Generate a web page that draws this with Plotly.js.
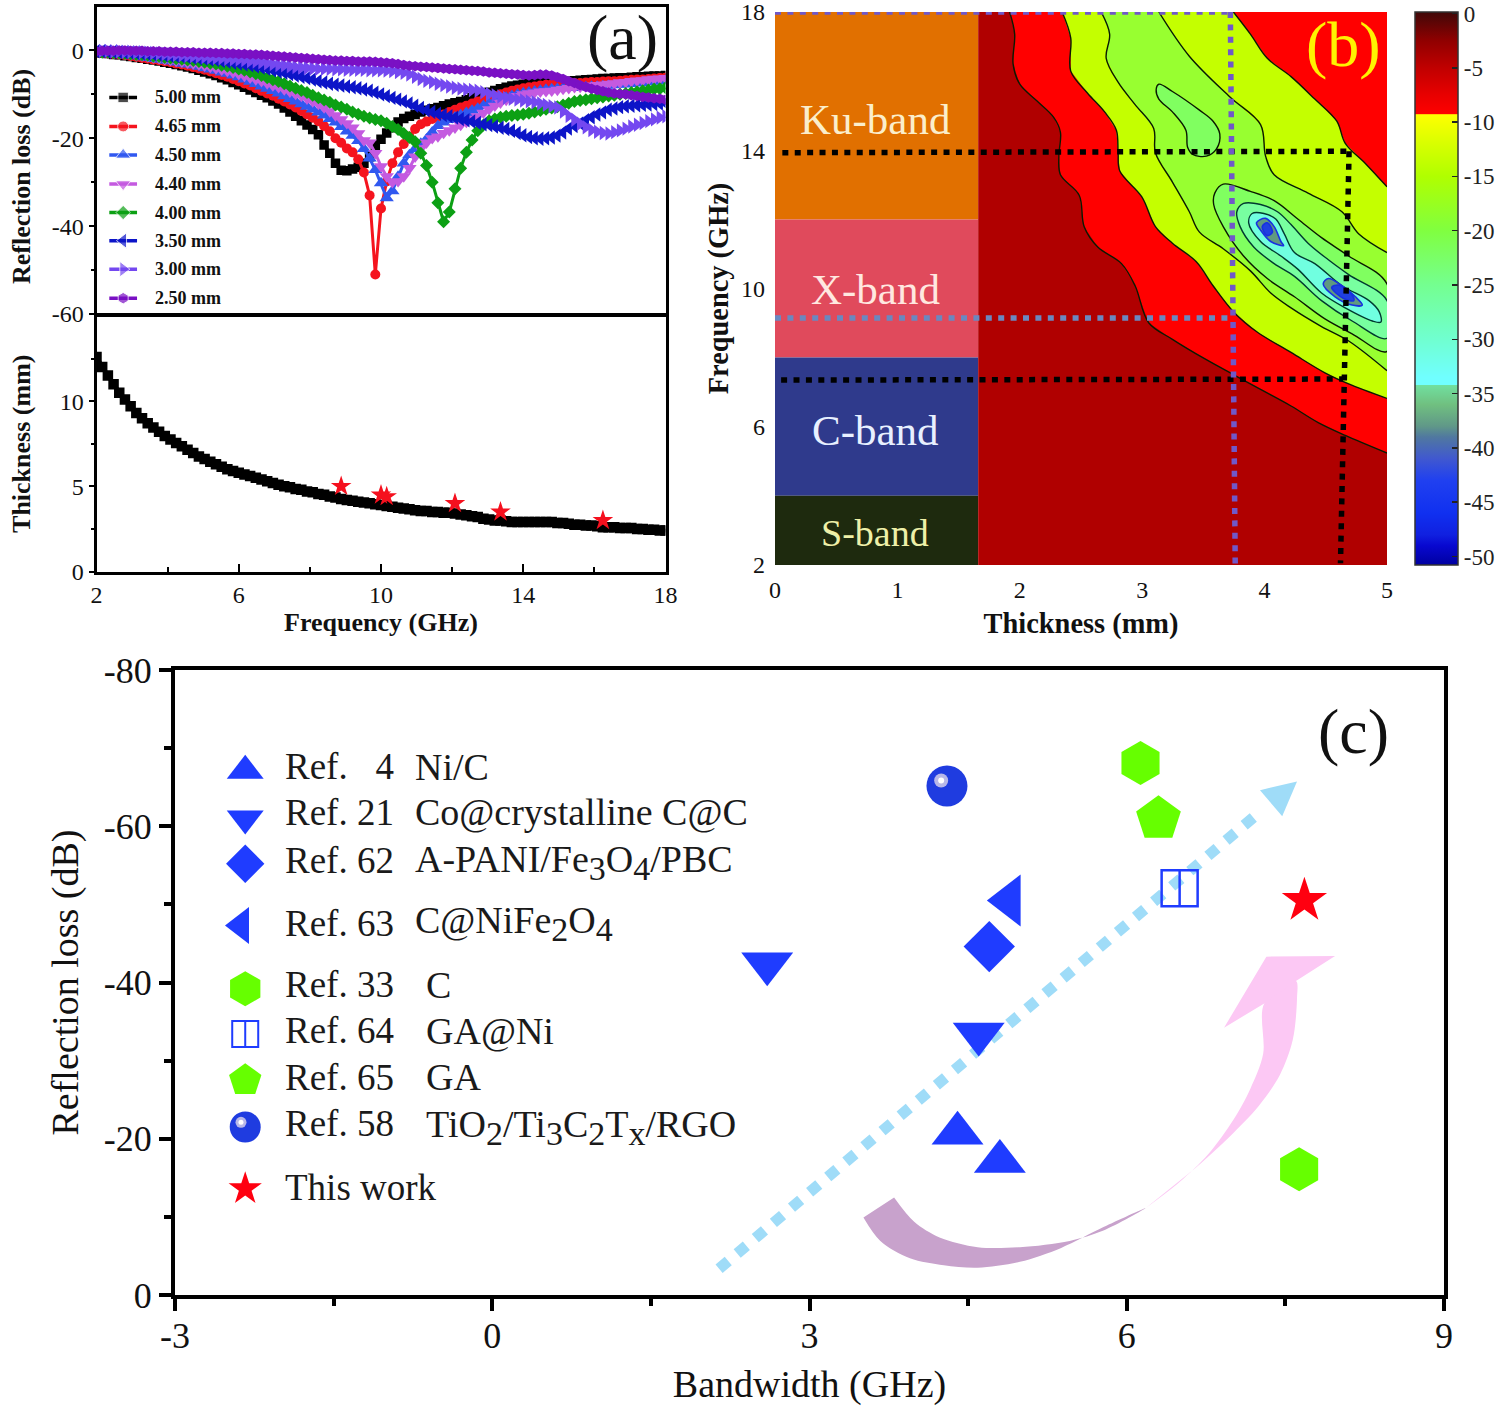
<!DOCTYPE html>
<html><head><meta charset="utf-8">
<script src="https://cdn.plot.ly/plotly-3.0.1.min.js"></script>
<style>html,body{margin:0;padding:0;background:#fff;width:1500px;height:1406px;overflow:hidden}</style></head>
<body><div id="chart" style="width:1500px;height:1406px;overflow:hidden"></div>
<script>
const serif = '"Liberation Serif", "Times New Roman", serif';

// ---------- Panel (a): reflection loss ----------
const freq = [2,2.16,2.32,2.48,2.64,2.8,2.96,3.12,3.28,3.44,
3.6,3.76,3.92,4.08,4.24,4.4,4.56,4.72,4.88,5.04,
5.2,5.36,5.52,5.68,5.84,6,6.16,6.32,6.48,6.64,
6.8,6.96,7.12,7.28,7.44,7.6,7.76,7.92,8.08,8.24,
8.4,8.56,8.72,8.88,9.04,9.2,9.36,9.52,9.68,9.84,
10,10.16,10.32,10.48,10.64,10.8,10.96,11.12,11.28,11.44,
11.6,11.76,11.92,12.08,12.24,12.4,12.56,12.72,12.88,13.04,
13.2,13.36,13.52,13.68,13.84,14,14.16,14.32,14.48,14.64,
14.8,14.96,15.12,15.28,15.44,15.6,15.76,15.92,16.08,16.24,
16.4,16.56,16.72,16.88,17.04,17.2,17.36,17.52,17.68,17.84,18];
const rl500 = [-0.5,-0.6,-0.7,-0.9,-1.0,-1.2,-1.4,-1.6,-1.8,-2.0,
-2.2,-2.4,-2.7,-2.9,-3.2,-3.5,-3.8,-4.1,-4.5,-4.9,
-5.3,-5.7,-6.2,-6.7,-7.3,-7.8,-8.4,-9.0,-9.6,-10.2,
-10.8,-11.5,-12.2,-13.1,-14.0,-15.0,-16.0,-17.0,-18.0,-19.2,
-21.5,-23.4,-25.7,-27.3,-27.4,-27.0,-26.6,-25.7,-24.2,-21.6,
-20.2,-18.8,-17.6,-16.3,-15.5,-15.0,-14.6,-14.0,-13.6,-13.3,
-13.0,-12.6,-12.2,-11.9,-11.6,-11.2,-10.8,-10.4,-10.0,-9.5,
-9.1,-8.7,-8.4,-8.1,-7.9,-7.7,-7.5,-7.4,-7.3,-7.3,
-7.2,-7.2,-7.1,-7.0,-6.9,-6.8,-6.7,-6.6,-6.5,-6.4,
-6.4,-6.3,-6.2,-6.2,-6.1,-6.0,-6.0,-5.9,-5.8,-5.8,-5.7];
const rl465 = [-0.5,-0.6,-0.7,-0.8,-0.9,-1.1,-1.3,-1.5,-1.7,-1.9,
-2.1,-2.3,-2.5,-2.7,-3.0,-3.2,-3.5,-3.8,-4.1,-4.4,
-4.8,-5.2,-5.6,-6.0,-6.5,-7.0,-7.5,-8.0,-8.6,-9.2,
-9.8,-10.3,-11.0,-11.6,-12.3,-13.0,-13.8,-14.6,-15.3,-16.1,
-17.2,-18.4,-20.0,-21.0,-22.3,-23.2,-24.8,-27.8,-33.0,-51.0,
-36.0,-29.8,-25.7,-23.2,-21.3,-19.6,-17.9,-16.8,-16.2,-15.6,
-15.2,-14.6,-14.0,-13.5,-13.0,-12.6,-12.1,-11.6,-11.2,-10.8,
-10.4,-10.0,-9.6,-9.2,-8.9,-8.6,-8.4,-8.2,-8.0,-7.8,
-7.7,-7.6,-7.5,-7.5,-7.4,-7.4,-7.3,-7.2,-7.2,-7.1,
-7.0,-7.0,-6.9,-6.8,-6.7,-6.6,-6.6,-6.5,-6.4,-6.3,-6.2];
const rl450 = [-0.4,-0.5,-0.6,-0.7,-0.8,-0.9,-1.1,-1.3,-1.5,-1.7,
-1.9,-2.1,-2.3,-2.5,-2.7,-3.0,-3.2,-3.4,-3.7,-4.0,
-4.3,-4.6,-5.0,-5.3,-5.7,-6.1,-6.6,-7.1,-7.6,-8.2,
-8.7,-9.2,-9.8,-10.4,-11.0,-11.6,-12.2,-12.8,-13.4,-14.1,
-14.8,-15.6,-16.4,-17.4,-18.4,-19.4,-20.6,-22.4,-24.6,-27.2,
-30.2,-33.6,-32.0,-28.7,-25.7,-23.8,-22.4,-21.2,-20.2,-18.6,
-17.2,-16.4,-15.8,-15.2,-14.7,-14.2,-13.7,-13.2,-12.6,-12.1,
-11.6,-11.1,-10.7,-10.3,-10.0,-9.7,-9.5,-9.3,-9.1,-8.9,
-8.8,-8.7,-8.6,-8.5,-8.5,-8.4,-8.3,-8.2,-8.2,-8.1,
-8.0,-7.9,-7.8,-7.7,-7.6,-7.5,-7.4,-7.2,-7.1,-7.0,-6.8];
const rl440 = [-0.4,-0.4,-0.5,-0.6,-0.7,-0.8,-0.9,-1.1,-1.2,-1.4,
-1.6,-1.8,-2.0,-2.2,-2.4,-2.6,-2.8,-3.0,-3.2,-3.5,
-3.8,-4.1,-4.4,-4.7,-5.0,-5.4,-5.8,-6.2,-6.6,-7.0,
-7.5,-8.0,-8.4,-8.9,-9.4,-9.9,-10.4,-11.0,-11.6,-12.2,
-13.0,-13.9,-14.8,-15.7,-16.6,-17.6,-18.9,-20.5,-21.0,-23.4,
-26.4,-28.7,-30.0,-29.8,-28.7,-26.8,-24.2,-22.3,-21.0,-20.0,
-19.6,-18.8,-18.2,-17.6,-17.0,-16.3,-15.6,-15.0,-14.2,-13.4,
-12.6,-11.9,-11.3,-10.8,-10.4,-10.0,-9.8,-9.6,-9.4,-9.3,
-9.2,-9.0,-8.8,-8.6,-8.4,-8.3,-8.2,-8.0,-7.9,-7.8,
-7.6,-7.5,-7.3,-7.2,-7.0,-6.9,-6.8,-6.6,-6.5,-6.4,-6.3];
const rl400 = [-0.3,-0.4,-0.4,-0.5,-0.6,-0.7,-0.8,-0.9,-1.0,-1.1,
-1.3,-1.4,-1.6,-1.7,-1.9,-2.0,-2.2,-2.3,-2.5,-2.7,
-2.9,-3.1,-3.4,-3.6,-3.9,-4.2,-4.5,-4.9,-5.3,-5.7,
-6.2,-6.7,-7.1,-7.6,-8.1,-8.6,-9.1,-9.6,-10.2,-10.8,
-11.3,-11.8,-12.4,-12.9,-13.4,-14.0,-14.5,-15.0,-15.4,-15.7,
-16.0,-16.6,-17.3,-18.0,-18.9,-19.8,-20.8,-23.4,-26.2,-30.0,
-34.7,-39.0,-36.8,-31.5,-26.8,-23.2,-20.4,-18.3,-17.0,-16.0,
-15.6,-15.2,-15.0,-14.8,-14.7,-14.5,-14.3,-14.0,-13.7,-13.4,
-13.1,-12.8,-12.4,-12.0,-11.6,-11.4,-11.2,-11.0,-10.8,-10.6,
-10.4,-10.2,-10.0,-9.8,-9.6,-9.4,-9.2,-9.0,-8.8,-8.7,-8.5];
const rl350 = [-0.2,-0.2,-0.3,-0.3,-0.4,-0.5,-0.5,-0.6,-0.7,-0.8,
-0.9,-1.0,-1.1,-1.2,-1.3,-1.4,-1.5,-1.7,-1.8,-1.9,
-2.1,-2.2,-2.4,-2.6,-2.8,-3.0,-3.2,-3.4,-3.6,-3.9,
-4.2,-4.5,-4.8,-5.1,-5.4,-5.7,-6.0,-6.3,-6.6,-7.0,
-7.3,-7.6,-7.8,-8.0,-8.2,-8.4,-8.6,-8.9,-9.2,-9.6,
-10.0,-10.4,-10.8,-11.2,-11.6,-12.1,-12.6,-13.1,-13.6,-14.0,
-14.4,-14.7,-15.0,-15.3,-15.6,-15.9,-16.2,-16.5,-16.8,-17.0,
-17.3,-17.6,-17.9,-18.3,-18.8,-19.3,-19.7,-20.0,-20.1,-20.0,
-19.8,-19.4,-18.7,-17.8,-17.2,-16.6,-15.9,-15.2,-14.6,-14.1,
-13.5,-13.2,-12.9,-12.7,-12.6,-12.5,-12.4,-12.3,-12.2,-12.1,-12.0];
const rl300 = [-0.1,-0.1,-0.1,-0.2,-0.2,-0.3,-0.3,-0.4,-0.4,-0.5,
-0.6,-0.7,-0.8,-0.9,-1.0,-1.1,-1.2,-1.3,-1.4,-1.5,
-1.6,-1.7,-1.8,-1.9,-2.0,-2.1,-2.2,-2.4,-2.5,-2.7,
-2.9,-3.1,-3.3,-3.4,-3.6,-3.8,-3.9,-4.0,-4.1,-4.2,
-4.2,-4.2,-4.3,-4.3,-4.4,-4.4,-4.4,-4.4,-4.5,-4.5,
-4.5,-4.6,-4.7,-4.9,-5.1,-5.5,-6.0,-6.5,-6.9,-7.2,
-7.6,-7.9,-8.2,-8.5,-8.7,-8.9,-9.0,-9.2,-9.5,-9.9,
-10.2,-10.5,-10.8,-11.0,-11.2,-11.4,-11.6,-11.8,-12.1,-12.4,
-12.7,-13.0,-13.9,-14.9,-15.8,-16.7,-17.5,-18.1,-18.5,-18.8,
-18.9,-18.6,-18.2,-17.8,-17.3,-16.9,-16.5,-16.1,-15.7,-15.3,-15.0];
const rl250 = [-0.2,-0.1,-0.1,-0.1,0.0,0.0,-0.1,-0.1,-0.1,-0.2,
-0.2,-0.2,-0.3,-0.3,-0.3,-0.4,-0.4,-0.4,-0.5,-0.5,
-0.5,-0.6,-0.6,-0.7,-0.7,-0.8,-0.8,-0.9,-0.9,-1.0,
-1.1,-1.2,-1.3,-1.4,-1.5,-1.6,-1.7,-1.8,-1.9,-2.0,
-2.1,-2.2,-2.3,-2.3,-2.4,-2.4,-2.5,-2.5,-2.5,-2.6,
-2.7,-2.8,-2.9,-3.1,-3.3,-3.5,-3.6,-3.7,-3.8,-3.9,
-4.0,-4.1,-4.2,-4.3,-4.4,-4.5,-4.6,-4.7,-4.8,-5.0,
-5.1,-5.2,-5.3,-5.4,-5.5,-5.6,-5.7,-5.6,-5.5,-5.5,
-5.7,-6.1,-6.5,-7.0,-7.4,-7.9,-8.3,-8.7,-9.0,-9.3,
-9.6,-9.8,-9.9,-10.0,-10.2,-10.4,-10.6,-10.7,-10.9,-11.0,-11.2];
const seriesNames = ['5.00 mm','4.65 mm','4.50 mm','4.40 mm','4.00 mm','3.50 mm','3.00 mm','2.50 mm'];
const seriesValues = [rl500,rl465,rl450,rl440,rl400,rl350,rl300,rl250];
const seriesColors = ['#000000','#f5141e','#3058f0','#c45ae0','#0ca014','#0c14c8','#7448f0','#7a10c4'];
const seriesSymbols = ['square','circle','triangle-up','triangle-down','diamond','triangle-left','triangle-right','hexagon'];
const seriesSizes = [9.5,10,12.5,12.5,10,12.5,12.5,10.5];
const keyFreq = [2.36,2.75,3.14];
const keyRL = [-10.7,-17.3,-23.8,-30.4,-36.9,-43.3,-49.8,-56.4];

// thickness vs frequency
const thick = [12.6,12.0,11.5,11.0,10.5,10.1,9.7,9.3,9.0,8.7,
8.45,8.2,7.95,7.75,7.55,7.35,7.15,6.95,6.75,6.6,
6.45,6.3,6.15,6.0,5.9,5.8,5.7,5.6,5.5,5.4,
5.3,5.2,5.1,5.0,4.95,4.85,4.8,4.7,4.65,4.55,
4.5,4.4,4.35,4.25,4.2,4.15,4.1,4.05,4.0,3.95,
3.9,3.85,3.8,3.75,3.7,3.65,3.6,3.55,3.55,3.5,
3.5,3.45,3.45,3.4,3.35,3.3,3.25,3.2,3.1,3.05,
3.0,3.0,2.95,2.9,2.9,2.9,2.9,2.9,2.9,2.9,
2.9,2.85,2.85,2.8,2.75,2.75,2.7,2.7,2.65,2.6,
2.6,2.6,2.55,2.55,2.55,2.5,2.5,2.45,2.45,2.4,2.4];
const starFreq = [8.88,10.0,10.16,12.08,13.36,16.24];
const starThick = [5.0,4.5,4.4,4.0,3.5,3.0];

// ---------- Panel (b): contour map ----------
const bandNames = ['Ku-band','X-band','C-band','S-band'];
const bandBase = [12,8,4,2];
const bandSpan = [6,4,4,2];
const bandColors = ['#e17000','#e04a5c','#2f3a8c','#1e2a0e'];
const bandTextColors = ['#fbeecb','#ffe8e0','#e8f0ff','#eef0a8'];
const bandLabelF = [14.88,9.96,5.9,2.93];

const c5T = [1.917,1.958,1.945,2.0,2.139,2.277,2.332,2.319,2.332,2.485,2.526,2.637,2.831,2.942,3.053,3.247,3.524,3.745,3.967,4.216,4.438,4.659,5];
const c5F = [18,17.36,16.5,15.91,15.43,14.95,14.52,13.83,13.29,12.7,11.79,11.2,10.72,10.08,9.01,8.53,7.94,7.51,7.08,6.6,6.12,5.75,5.24];
const c10aT = [2.346,2.416,2.416,2.554,2.693,2.789,2.803,2.817,2.997,3.108,3.247,3.44,3.579,3.745,3.939,4.216,4.493,4.687,5];
const c10aF = [18,17.25,16.29,15.65,15.11,14.58,13.93,13.4,12.65,11.79,11.31,10.78,10.08,9.33,8.74,8.15,7.56,7.24,6.82];
const c10bT = [3.745,3.884,4.022,4.216,4.41,4.59,4.659,4.825,5];
const c10bF = [18,17.36,16.66,16.13,15.48,14.84,14.2,13.61,12.94];
const c15aT = [2.665,2.734,2.706,2.803,2.942,3.094,3.108,3.247,3.385,3.468,3.662,3.884,4.05,4.216,4.465,4.687,5];
const c15aF = [18,17.36,16.66,15.97,15.32,14.63,13.93,13.08,12.22,11.63,11.15,10.51,9.87,9.44,8.9,8.48,7.62];
const c15bT = [3.136,3.385,3.717,3.967,4.008,4.078,4.355,4.632,4.77,5];
const c15bF = [18,16.72,15.54,14.74,13.83,13.29,12.76,12.22,11.58,11.04];
const c20aT = [3.136,3.247,3.468,3.579,3.634,3.607,3.524,3.413,3.371,3.357,3.247,3.136,3.114,3.136];
const c20aF = [15.91,15.7,15.16,14.84,14.47,14.04,13.83,13.88,14.09,14.58,15.11,15.48,15.75,15.91];
const c20bT = [3.593,3.662,3.884,4.078,4.271,4.465,4.687,5,5,4.715,4.493,4.244,4.022,3.828,3.662,3.584,3.593];
const c20bF = [12.76,13.02,12.81,12.54,12.01,11.47,10.94,10.13,8.18,8.69,9.12,9.76,10.29,10.94,11.79,12.43,12.76];
const c25T = [3.773,3.828,3.967,4.105,4.216,4.355,4.521,4.687,5,5,4.715,4.465,4.244,4.078,3.911,3.8,3.773];
const c25F = [12.22,12.46,12.43,12.22,11.85,11.31,10.83,10.4,9.65,8.56,9.06,9.65,10.35,10.72,11.2,11.79,12.22];
const c30T = [3.87,3.898,3.994,4.091,4.161,4.244,4.41,4.632,4.853,4.936,4.95,4.881,4.659,4.465,4.271,4.133,3.967,3.87];
const c30F = [11.9,12.17,12.17,12.01,11.58,11.04,10.72,10.08,9.65,9.33,9.03,9.06,9.44,9.87,10.56,10.94,11.36,11.9];
const c35aT = [3.934,4.008,4.078,4.133,4.155,4.05,3.967,3.934];
const c35aF = [11.9,12.03,11.79,11.36,11.24,11.36,11.69,11.9];
const c40aT = [3.981,4.022,4.064,4.022,3.981];
const c40aF = [11.79,11.9,11.63,11.53,11.79];
const c35bT = [4.479,4.521,4.632,4.742,4.798,4.715,4.576,4.479];
const c35bF = [10.13,10.29,10.08,9.76,9.52,9.52,9.76,10.13];
const c40bT = [4.548,4.604,4.715,4.728,4.645,4.548];
const c40bF = [10.03,10.1,9.81,9.65,9.71,10.03];

const cbMax = 0.14, cbMin = -50.78;
const cbStopValues = [0.14,-2.5,-5,-7.5,-9.29,-9.3,-12,-15,-20,-25,-30,-33.5,-34.19,-34.2,-36,-38,-39,-41,-43,-46,-48,-49,-50.78];
const cbStopColors = ['#400808','#900000','#c00000','#e80000','#ff0000','#ffff00','#d8ff00','#b0ff00','#80ff40','#74ff90','#70ffd0','#70ffff','#70ffff','#70e0a0','#70c080','#609888','#5078a0','#4058d0','#2040f0','#1030f0','#1020e0','#0808d0','#0000a0'];
const cbTickVals = [0,-5,-10,-15,-20,-25,-30,-35,-40,-45,-50];
const cbTickText = ['0','-5','-10','-15','-20','-25','-30','-35','-40','-45','-50'];

const purpleHT = [0,3.72], purpleHF = [18,18];
const purpleVT = [3.72,3.76], purpleVF = [18,2];
const slateHT = [0,3.74], slateHF = [9.15,9.15];
const blackH1T = [0.06,4.69], blackH1F = [13.93,13.97];
const blackH2T = [0.05,4.64], blackH2F = [7.35,7.38];
const blackVT = [4.69,4.62], blackVF = [13.97,2.05];

// ---------- Panel (c): comparison ----------
const upX = [4.40,4.80], upY = [-20.7,-17.1];
const downX = [2.60,4.60], downY = [-42.4,-33.4];
const diamondX = [4.70], diamondY = [-44.6];
const leftX = [4.89], leftY = [-50.5];
const hexX = [6.13,7.63], hexY = [-68.1,-16.1];
const boxX = [6.50], boxY = [-52.05];
const pentX = [6.30], pentY = [-60.96];
const ballX = [4.30], ballY = [-65.15];
const thisX = [7.68], thisY = [-50.5];

const keyX = -2.336;
const keyY = {up:-67.1,down:-61.0,diamond:-55.2,left:-47.3,hex:-39.2,box:-33.4,pent:-27.5,ball:-21.5,star:-13.6};
const refLabels = ['Ref.\u00a0\u00a0\u00a04','Ref. 21','Ref. 62','Ref. 63','Ref. 33','Ref. 64','Ref. 65','Ref. 58','This work'];
const sb = s => '<sub><span style="font-size:34px">'+s+'</span></sub>';
const materialLabels = ['Ni/C','Co@crystalline C@C','A-PANI/Fe'+sb('3')+'O'+sb('4')+'/PBC','C@NiFe'+sb('2')+'O'+sb('4'),'C','GA@Ni','GA','TiO'+sb('2')+'/Ti'+sb('3')+'C'+sb('2')+'T'+sb('x')+'/RGO',''];
const materialX = [-0.745,-0.745,-0.745,-0.745,-0.65,-0.65,-0.65,-0.65,-0.65];
const rowY = [-67.6,-61.8,-55.6,-47.5,-39.7,-33.8,-27.9,-22.0,-13.8];
const materialY = [-67.6,-61.8,-55.4,-47.5,-39.7,-33.8,-27.9,-21.5,-13.8];

const dotLineX = [2.145,7.23], dotLineY = [-3.36,-61.5];
const arrowHeadX = [7.61,7.26,7.47], arrowHeadY = [-65.73,-64.62,-61.29];
const tailX = [3.80,3.99,4.23,4.59,4.99,5.46,5.78,6.18,5.78,5.38,4.99,4.59,4.27,3.95,3.67,3.51];
const tailY = [-12.47,-9.36,-7.36,-6.12,-6.12,-6.92,-8.25,-11.13,-8.69,-6.03,-4.25,-3.50,-3.81,-4.70,-6.92,-9.93];
const shaftX = [6.18,6.50,6.77,7.01,7.17,7.29,7.30,7.60,7.61,7.57,7.45,7.25,6.97,6.65];
const shaftY = [-11.13,-14.46,-18.01,-22.45,-26.44,-30.88,-37.32,-40.20,-37.98,-32.66,-28.22,-24.23,-20.23,-16.24];
const barbX = [7.30,6.92,7.32,7.97,7.60];
const barbY = [-37.32,-34.21,-43.31,-43.40,-40.20];

// ---------- Traces ----------
const traces = [];
// panel a
seriesValues.forEach((v,i)=>{
  traces.push({type:'scatter',mode:'lines+markers',x:freq,y:v,xaxis:'x',yaxis:'y',name:seriesNames[i],
    line:{color:seriesColors[i],width:3},marker:{symbol:seriesSymbols[i],color:seriesColors[i],size:seriesSizes[i]}});
});
seriesNames.forEach((n,i)=>{
  traces.push({type:'scatter',mode:'lines+markers',x:keyFreq,y:[keyRL[i],keyRL[i],keyRL[i]],xaxis:'x',yaxis:'y',
    line:{color:seriesColors[i],width:3.5},marker:{symbol:seriesSymbols[i],color:seriesColors[i],size:[0,seriesSizes[i]+1,0]},
    hoverinfo:'skip'});
});
traces.push({type:'scatter',mode:'lines+markers',x:freq,y:thick,xaxis:'x2',yaxis:'y2',
  line:{color:'#000',width:4},marker:{symbol:'square',color:'#000',size:10.5},cliponaxis:true});
traces.push({type:'scatter',mode:'markers',x:starFreq,y:starThick,xaxis:'x2',yaxis:'y2',
  marker:{symbol:'star',color:'#f5101e',size:15.5}});

// panel b
traces.push({type:'bar',x:[0.83,0.83,0.83,0.83],y:bandSpan,base:bandBase,width:1.66,xaxis:'x3',yaxis:'y3',
  marker:{color:bandColors,line:{width:0}}});
traces.push({type:'bar',x:[3.33],y:[16],base:[2],width:3.34,xaxis:'x3',yaxis:'y3',marker:{color:'#b00000',line:{width:0}}});
function poly(xs,ys,color,shape){
  traces.push({type:'scatter',mode:'lines',x:xs,y:ys,xaxis:'x3',yaxis:'y3',fill:'toself',fillcolor:color,
    line:{width:0,shape:shape||'linear',smoothing:1},hoverinfo:'skip'});
}
function cline(xs,ys,color,w){
  traces.push({type:'scatter',mode:'lines',x:xs,y:ys,xaxis:'x3',yaxis:'y3',
    line:{color:color,width:w||1.4,shape:'spline',smoothing:1},hoverinfo:'skip'});
}
poly(c5T.concat([5]),c5F.concat([18]),'#ff0000');
poly(c10aT.concat(c10bT.slice().reverse()),c10aF.concat(c10bF.slice().reverse()),'#c4ff00');
poly(c15aT.concat(c15bT.slice().reverse()),c15aF.concat(c15bF.slice().reverse()),'#98ff30');
poly(c20aT,c20aF,'#80ff60','spline');
poly(c20bT,c20bF,'#80ff60','spline');
poly(c25T,c25F,'#78ffa0','spline');
poly(c30T,c30F,'#70ffe0','spline');
poly(c35aT,c35aF,'#609a80','spline');
poly(c35bT,c35bF,'#609a80','spline');
poly(c40aT,c40aF,'#2040e0','spline');
poly(c40bT,c40bF,'#2040e0','spline');
[[c5T,c5F],[c10aT,c10aF],[c10bT,c10bF],[c15aT,c15aF],[c15bT,c15bF],[c20aT,c20aF],[c20bT,c20bF]].forEach(p=>cline(p[0],p[1],'#0a1a00'));
[[c25T,c25F],[c30T,c30F]].forEach(p=>cline(p[0],p[1],'#003a30'));
[[c35aT,c35aF],[c35bT,c35bF],[c40aT,c40aF],[c40bT,c40bF]].forEach(p=>cline(p[0],p[1],'#1830e0',1.6));
function dotted(xs,ys,color){
  traces.push({type:'scatter',mode:'lines',x:xs,y:ys,xaxis:'x3',yaxis:'y3',cliponaxis:false,
    line:{color:color,width:5.5,dash:'6px,6.4px'},hoverinfo:'skip'});
}
dotted(purpleHT,purpleHF,'#7058c8');
dotted(slateHT,slateHF,'#6a88c0');
dotted(blackH1T,blackH1F,'#000');
dotted(blackH2T,blackH2F,'#000');
dotted(blackVT,blackVF,'#000');
dotted(purpleVT,purpleVF,'#7058c8');
// colour bar carrier (its single point sits outside the axis range)
traces.push({type:'scatter',mode:'markers',x:[-9],y:[-9],xaxis:'x3',yaxis:'y3',hoverinfo:'skip',
  marker:{color:[-20],cmin:cbMin,cmax:cbMax,size:1,showscale:true,
    colorscale:cbStopValues.map((v,i)=>[(v-cbMin)/(cbMax-cbMin),cbStopColors[i]]).reverse(),
    colorbar:{x:1415/1500,xanchor:'left',xpad:0,y:1-12/1406,yanchor:'top',ypad:0,
      thickness:43,thicknessmode:'pixels',len:553,lenmode:'pixels',
      tickmode:'array',tickvals:cbTickVals,ticktext:cbTickText,ticks:'inside',ticklen:6,tickwidth:1.5,tickcolor:'#222',
      tickfont:{family:serif,size:23,color:'#222'},outlinewidth:1.5,outlinecolor:'#333',borderwidth:0}}});

// panel c
const BLUE='#1f3cff', GREEN='#66ff00';
function mk(xs,ys,symbol,size,color,extra){
  traces.push({type:'scatter',mode:'markers',x:xs,y:ys,xaxis:'x4',yaxis:'y4',
    marker:Object.assign({symbol:symbol,size:size,color:color,line:{width:0}},extra||{})});
}
traces.push({type:'scatter',mode:'lines',x:tailX,y:tailY,xaxis:'x4',yaxis:'y4',fill:'toself',fillcolor:'#c8a2cc',line:{width:0,shape:'spline',smoothing:0.9},hoverinfo:'skip'});
traces.push({type:'scatter',mode:'lines',x:shaftX,y:shaftY,xaxis:'x4',yaxis:'y4',fill:'toself',fillcolor:'#fcc8f4',line:{width:0,shape:'spline',smoothing:0.9},hoverinfo:'skip'});
traces.push({type:'scatter',mode:'lines',x:barbX,y:barbY,xaxis:'x4',yaxis:'y4',fill:'toself',fillcolor:'#fcc8f4',line:{width:0},hoverinfo:'skip'});
traces.push({type:'scatter',mode:'lines',x:dotLineX,y:dotLineY,xaxis:'x4',yaxis:'y4',
  line:{color:'#9fdcf8',width:11,dash:'12px,11.7px'},hoverinfo:'skip'});
traces.push({type:'scatter',mode:'lines',x:arrowHeadX,y:arrowHeadY,xaxis:'x4',yaxis:'y4',fill:'toself',fillcolor:'#9fdcf8',line:{width:0},hoverinfo:'skip'});
mk(upX,upY,'triangle-up',45,BLUE);
mk(downX,downY,'triangle-down',45,BLUE);
mk(diamondX,diamondY,'diamond',39.5,BLUE);
mk(leftX,leftY,'triangle-left',45,BLUE);
mk(hexX,hexY,'hexagon',44,GREEN);
mk(pentX,pentY,'pentagon',47,GREEN);
mk(ballX,ballY,'circle',41,'#1f3ce0');
mk([ballX[0]-0.055],[ballY[0]-0.7],'circle',14,'#b8b8e8');
mk([ballX[0]-0.055],[ballY[0]-0.7],'circle',6,'#ffffff');
mk(thisX,thisY,'star',34,'#ff0010');
mk(boxX,boxY,'square-open',36,BLUE,{line:{width:2.5,color:BLUE}});
mk(boxX,boxY,'line-ns-open',25.7,BLUE,{line:{width:2.5,color:BLUE}});
// legend keys of panel c
mk([keyX],[keyY.up],'triangle-up',32,BLUE);
mk([keyX],[keyY.down],'triangle-down',32,BLUE);
mk([keyX],[keyY.diamond],'diamond',29.5,BLUE);
mk([keyX-0.04],[keyY.left],'triangle-left',32,BLUE);
mk([keyX],[keyY.hex],'hexagon',35,GREEN);
mk([keyX],[keyY.box],'square-open',26,BLUE,{line:{width:2,color:BLUE}});
mk([keyX],[keyY.box],'line-ns-open',18.6,BLUE,{line:{width:2,color:BLUE}});
mk([keyX],[keyY.pent],'pentagon',34,GREEN);
mk([keyX],[keyY.ball],'circle',31,'#1f3ce0');
mk([keyX-0.04],[keyY.ball-0.6],'circle',11,'#b8b8e8');
mk([keyX-0.04],[keyY.ball-0.6],'circle',5,'#ffffff');
mk([keyX],[keyY.star],'star',25,'#ff0010');

traces.forEach(t=>{t.showlegend=false;});

// ---------- Annotations ----------
const annotations = [];
const P = (x,y,text,size,color,extra)=>annotations.push(Object.assign({xref:'paper',yref:'paper',x:x/1500,y:1-y/1406,text:text,
  showarrow:false,font:{family:serif,size:size,color:color||'#111'},xanchor:'center',yanchor:'middle'},extra||{}));
P(622,38,'(a)',64);
P(1343,44,'(b)',64,'#fff200');
P(1353,732,'(c)',64);
P(22,177,'<b>Reflection loss (dB)</b>',26,'#111',{textangle:-90});
seriesNames.forEach((n,i)=>annotations.push({xref:'x',yref:'y',x:3.6,y:keyRL[i],text:'<b>'+n+'</b>',showarrow:false,
  xanchor:'left',yanchor:'middle',font:{family:serif,size:18,color:'#111'}}));
bandNames.forEach((n,i)=>annotations.push({xref:'x3',yref:'y3',x:0.82,y:bandLabelF[i],text:n,showarrow:false,
  xanchor:'center',yanchor:'middle',font:{family:serif,size:i===3?38:43,color:bandTextColors[i]}}));
refLabels.forEach((n,i)=>annotations.push({xref:'x4',yref:'y4',x:-1.98,y:rowY[i],text:n,showarrow:false,
  xanchor:'left',yanchor:'middle',font:{family:serif,size:37,color:'#1a1a1a'}}));
materialLabels.forEach((n,i)=>{ if(n) annotations.push({xref:'x4',yref:'y4',x:materialX[i],y:materialY[i],text:n,showarrow:false,
  xanchor:'left',yanchor:'middle',font:{family:serif,size:38,color:'#1a1a1a'}});});

// ---------- Layout ----------
const dx=(a,b)=>[a/1500,b/1500], dy=(top,bot)=>[1-bot/1406,1-top/1406];
const tickFontA={family:serif,size:24,color:'#111'};
const layout = {
  width:1500,height:1406,margin:{l:0,r:0,t:0,b:0,autoexpand:false},paper_bgcolor:'#fff',plot_bgcolor:'rgba(0,0,0,0)',
  showlegend:false,hovermode:false,annotations:annotations,barmode:'overlay',
  xaxis:{domain:dx(96.5,665.5),range:[2,18],anchor:'y',showticklabels:false,ticks:'',showgrid:false,zeroline:false,
    showline:true,linecolor:'#000',linewidth:3,mirror:true},
  yaxis:{domain:dy(6.5,314),range:[-60,10],anchor:'x',tickmode:'array',tickvals:[0,-20,-40,-60],ticktext:['0','-20','-40','-60'],
    ticks:'outside',ticklen:5,tickwidth:2,tickcolor:'#000',tickfont:tickFontA,showgrid:false,zeroline:false,
    minor:{tickmode:'array',tickvals:[-10,-30,-50],ticks:'outside',ticklen:3,tickwidth:2,tickcolor:'#000'},
    showline:true,linecolor:'#000',linewidth:3,mirror:true},
  xaxis2:{domain:dx(96.5,665.5),range:[2,18],anchor:'y2',tickmode:'array',tickvals:[2,6,10,14,18],ticktext:['2','6','10','14','18'],
    ticks:'inside',ticklen:8,tickwidth:2,tickcolor:'#000',tickfont:tickFontA,showgrid:false,zeroline:false,
    minor:{tickmode:'array',tickvals:[4,8,12,16],ticks:'inside',ticklen:5,tickwidth:2,tickcolor:'#000'},
    showline:true,linecolor:'#000',linewidth:3,mirror:true,
    title:{text:'<b>Frequency (GHz)</b>',font:{family:serif,size:26,color:'#111'},standoff:0}},
  yaxis2:{domain:dy(316,571.5),range:[0,15],anchor:'x2',tickmode:'array',tickvals:[0,5,10],ticktext:['0','5','10'],
    ticks:'outside',ticklen:5,tickwidth:2,tickcolor:'#000',tickfont:tickFontA,showgrid:false,zeroline:false,
    minor:{tickmode:'array',tickvals:[2.5,7.5,12.5],ticks:'outside',ticklen:3,tickwidth:2,tickcolor:'#000'},
    showline:true,linecolor:'#000',linewidth:3,mirror:true,
    title:{text:'<b>Thickness (mm)</b>',font:{family:serif,size:26,color:'#111'},standoff:22}},
  xaxis3:{domain:dx(775,1387),range:[0,5],anchor:'y3',tickmode:'array',tickvals:[0,1,2,3,4,5],ticktext:['0','1','2','3','4','5'],
    ticks:'',tickfont:tickFontA,showgrid:false,zeroline:false,showline:false,ticklabelstandoff:8,
    title:{text:'<b>Thickness (mm)</b>',font:{family:serif,size:28.4,color:'#111'},standoff:11}},
  yaxis3:{domain:dy(12,565),range:[2,18],anchor:'x3',tickmode:'array',tickvals:[2,6,10,14,18],ticktext:['2','6','10','14','18'],
    ticks:'',tickfont:tickFontA,showgrid:false,zeroline:false,showline:false,ticklabelstandoff:9,ticklabeloverflow:'allow',
    title:{text:'<b>Frequency (GHz)</b>',font:{family:serif,size:28.4,color:'#111'},standoff:4}},
  xaxis4:{domain:dx(175,1444),range:[-3,9],anchor:'y4',tickmode:'array',tickvals:[-3,0,3,6,9],ticktext:['-3','0','3','6','9'],
    ticks:'outside',ticklen:12,tickwidth:4,tickcolor:'#000',tickfont:{family:serif,size:36,color:'#111'},showgrid:false,zeroline:false,
    ticklabelstandoff:-6,
    minor:{tickmode:'array',tickvals:[-1.5,1.5,4.5,7.5],ticks:'outside',ticklen:7,tickwidth:4,tickcolor:'#000'},
    showline:true,linecolor:'#000',linewidth:4,mirror:true,
    title:{text:'Bandwidth (GHz)',font:{family:serif,size:38,color:'#111'},standoff:16}},
  yaxis4:{domain:dy(670,1295),range:[0,-80],anchor:'x4',tickmode:'array',tickvals:[0,-20,-40,-60,-80],ticktext:['0','-20','-40','-60','-80'],
    ticks:'outside',ticklen:12,tickwidth:4,tickcolor:'#000',tickfont:{family:serif,size:36,color:'#111'},showgrid:false,zeroline:false,
    minor:{tickmode:'array',tickvals:[-10,-30,-50,-70],ticks:'outside',ticklen:7,tickwidth:4,tickcolor:'#000'},
    showline:true,linecolor:'#000',linewidth:4,mirror:true,
    title:{text:'Reflection loss (dB)',font:{family:serif,size:38,color:'#111'},standoff:14}}
};
Plotly.newPlot('chart',traces,layout,{displayModeBar:false,staticPlot:true});
</script></body></html>
